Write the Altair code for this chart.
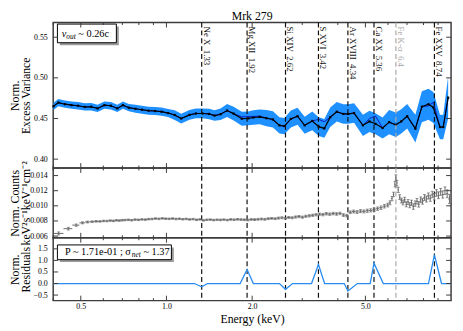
import altair as alt
import pandas as pd

FONT = "Liberation Serif"

# ---------------- data ----------------
# line markers
line_energy = [1.33, 1.92, 2.62, 3.42, 4.34, 5.36, 6.4, 8.74]
line_name = ["Ne X", "Mg XII", "Si XIV", "S XVI", "Ar XVIII", "Ca XX", "Fe K-α", "Fe XXV"]
line_value_text = ["1.33", "1.92", "2.62", "3.42", "4.34", "5.36", "6.4", "8.74"]

# excess variance spectrum (data, model, error)
ev_energy = [0.401, 0.417, 0.440, 0.464, 0.489, 0.516, 0.544, 0.573, 0.605, 0.638,
             0.672, 0.703, 0.738, 0.778, 0.820, 0.865, 0.912, 0.961, 1.014, 1.069,
             1.127, 1.205, 1.269, 1.339, 1.412, 1.476, 1.549, 1.633, 1.722, 1.840,
             1.941, 2.020, 2.128, 2.244, 2.367, 2.495, 2.596, 2.737, 2.887, 3.060,
             3.253, 3.428, 3.587, 3.762, 3.967, 4.180, 4.350, 4.562, 4.901, 5.169,
             5.424, 5.747, 6.061, 6.393, 6.683, 7.010, 7.491, 7.896, 8.329, 8.668,
             9.141, 9.385, 9.766]
ev_data = [0.4650, 0.4696, 0.4676, 0.4664, 0.4657, 0.4642, 0.4645, 0.4624, 0.4664, 0.4657,
           0.4624, 0.4664, 0.4633, 0.4620, 0.4608, 0.4596, 0.4592, 0.4584, 0.4567, 0.4543,
           0.4500, 0.4545, 0.4562, 0.4562, 0.4556, 0.4536, 0.4552, 0.4598, 0.4560, 0.4497,
           0.4502, 0.4512, 0.4520, 0.4504, 0.4488, 0.4416, 0.4407, 0.4495, 0.4528, 0.4416,
           0.4470, 0.4400, 0.4378, 0.4516, 0.4584, 0.4556, 0.4556, 0.4567, 0.4416, 0.4464,
           0.4435, 0.4383, 0.4455, 0.4423, 0.4464, 0.4528, 0.4375, 0.4645, 0.4676, 0.4636,
           0.4395, 0.4395, 0.4757]
ev_model = [0.4650, 0.4696, 0.4676, 0.4664, 0.4657, 0.4642, 0.4645, 0.4624, 0.4664, 0.4657,
            0.4624, 0.4664, 0.4633, 0.4620, 0.4608, 0.4596, 0.4592, 0.4584, 0.4567, 0.4543,
            0.4500, 0.4545, 0.4562, 0.4562, 0.4556, 0.4536, 0.4552, 0.4598, 0.4560, 0.4520,
            0.4525, 0.4525, 0.4530, 0.4504, 0.4488, 0.4416, 0.4407, 0.4495, 0.4528, 0.4416,
            0.4470, 0.4490, 0.4460, 0.4516, 0.4584, 0.4556, 0.4556, 0.4567, 0.4416, 0.4500,
            0.4530, 0.4383, 0.4455, 0.4423, 0.4464, 0.4528, 0.4375, 0.4645, 0.4656, 0.4700,
            0.4395, 0.4395, 0.4757]
ev_err = [0.0045, 0.0045, 0.0045, 0.0045, 0.0045, 0.0045, 0.0045, 0.0045, 0.0045, 0.0045,
          0.0045, 0.0045, 0.0045, 0.0050, 0.0050, 0.0050, 0.0050, 0.0050, 0.0050, 0.0060,
          0.0060, 0.0060, 0.0060, 0.0060, 0.0065, 0.0065, 0.0070, 0.0080, 0.0085, 0.0085,
          0.0085, 0.0090, 0.0090, 0.0100, 0.0100, 0.0100, 0.0100, 0.0105, 0.0105, 0.0105,
          0.0115, 0.0115, 0.0115, 0.0120, 0.0120, 0.0120, 0.0120, 0.0120, 0.0130, 0.0130,
          0.0130, 0.0130, 0.0150, 0.0150, 0.0150, 0.0150, 0.0170, 0.0190, 0.0190, 0.0190,
          0.0150, 0.0150, 0.0260]

# counts spectrum
ct_energy = [0.418, 0.452, 0.482, 0.507, 0.528, 0.548, 0.566, 0.584, 0.601, 0.618,
             0.635, 0.651, 0.667, 0.683, 0.699, 0.715, 0.735, 0.755, 0.776, 0.798,
             0.820, 0.843, 0.866, 0.890, 0.915, 0.941, 0.967, 0.994, 1.022, 1.051,
             1.080, 1.110, 1.141, 1.173, 1.206, 1.240, 1.275, 1.311, 1.348, 1.386,
             1.425, 1.465, 1.506, 1.548, 1.591, 1.636, 1.682, 1.729, 1.777, 1.827,
             1.878, 1.931, 1.985, 2.041, 2.098, 2.157, 2.217, 2.279, 2.343, 2.409,
             2.476, 2.545, 2.617, 2.690, 2.765, 2.843, 2.922, 3.004, 3.088, 3.175,
             3.264, 3.355, 3.449, 3.545, 3.645, 3.747, 3.852, 3.960, 4.071, 4.185,
             4.302, 4.422, 4.546, 4.673, 4.804, 4.939, 5.077, 5.219, 5.365, 5.515,
             5.670, 5.829, 5.992, 6.100, 6.200, 6.280, 6.350, 6.400, 6.450, 6.520,
             6.600, 6.690, 6.780, 6.870, 6.960, 7.060, 7.160, 7.260, 7.370, 7.480,
             7.590, 7.700, 7.820, 7.940, 8.060, 8.190, 8.320, 8.450, 8.590, 8.730,
             8.880, 9.030, 9.190, 9.350, 9.520, 9.690, 9.870]
ct_value = [0.00635, 0.00698, 0.00745, 0.00775, 0.00786, 0.00790, 0.00795, 0.00794, 0.00800, 0.00799,
            0.00805, 0.00801, 0.00808, 0.00805, 0.00810, 0.00812, 0.00815, 0.00810, 0.00818, 0.00815,
            0.00820, 0.00818, 0.00824, 0.00826, 0.00832, 0.00828, 0.00834, 0.00830, 0.00828, 0.00832,
            0.00826, 0.00829, 0.00823, 0.00827, 0.00820, 0.00824, 0.00816, 0.00820, 0.00808, 0.00815,
            0.00818, 0.00812, 0.00816, 0.00814, 0.00818, 0.00812, 0.00820, 0.00816, 0.00822, 0.00818,
            0.00816, 0.00812, 0.00820, 0.00818, 0.00822, 0.00826, 0.00822, 0.00830, 0.00834, 0.00830,
            0.00838, 0.00842, 0.00836, 0.00846, 0.00842, 0.00852, 0.00858, 0.00850, 0.00862, 0.00868,
            0.00875, 0.00882, 0.00890, 0.00884, 0.00895, 0.00890, 0.00898, 0.00893, 0.00900, 0.00878,
            0.00870, 0.00915, 0.00925, 0.00918, 0.00930, 0.00926, 0.00935, 0.00940, 0.00948, 0.00962,
            0.00975, 0.00995, 0.01010, 0.01040, 0.01095, 0.01150, 0.01285, 0.01370, 0.01300, 0.01210,
            0.01115, 0.01070, 0.01045, 0.01080, 0.01020, 0.01050, 0.01010, 0.01040, 0.00990, 0.01030,
            0.01060, 0.01020, 0.01080, 0.01060, 0.01110, 0.01090, 0.01130, 0.01100, 0.01150, 0.01120,
            0.01170, 0.01140, 0.01185, 0.01150, 0.01200, 0.01160, 0.01090]
ct_err = [0.00020, 0.00018, 0.00015, 0.00013, 0.00012, 0.00011, 0.00011, 0.00010, 0.00010, 0.00010,
          0.00010, 0.00010, 0.00010, 0.00010, 0.00010, 0.00010, 0.00010, 0.00010, 0.00010, 0.00010,
          0.00010, 0.00010, 0.00010, 0.00010, 0.00010, 0.00010, 0.00010, 0.00010, 0.00010, 0.00010,
          0.00010, 0.00010, 0.00010, 0.00010, 0.00010, 0.00010, 0.00010, 0.00010, 0.00010, 0.00010,
          0.00010, 0.00010, 0.00010, 0.00010, 0.00010, 0.00010, 0.00011, 0.00011, 0.00011, 0.00011,
          0.00011, 0.00011, 0.00011, 0.00012, 0.00012, 0.00012, 0.00012, 0.00012, 0.00012, 0.00012,
          0.00013, 0.00013, 0.00013, 0.00013, 0.00013, 0.00014, 0.00014, 0.00014, 0.00014, 0.00015,
          0.00015, 0.00015, 0.00015, 0.00016, 0.00016, 0.00016, 0.00017, 0.00017, 0.00017, 0.00018,
          0.00018, 0.00018, 0.00019, 0.00019, 0.00020, 0.00020, 0.00021, 0.00021, 0.00022, 0.00022,
          0.00023, 0.00024, 0.00025, 0.00026, 0.00028, 0.00030, 0.00035, 0.00040, 0.00038, 0.00034,
          0.00032, 0.00032, 0.00033, 0.00033, 0.00034, 0.00034, 0.00035, 0.00035, 0.00036, 0.00036,
          0.00037, 0.00037, 0.00038, 0.00038, 0.00039, 0.00040, 0.00040, 0.00041, 0.00042, 0.00043,
          0.00044, 0.00045, 0.00046, 0.00048, 0.00050, 0.00052, 0.00060]

# residuals
res_energy = [0.40, 1.253, 1.33, 1.393, 1.815, 1.92, 2.020, 2.495, 2.62, 2.775,
              3.234, 3.42, 3.595, 4.214, 4.34, 4.688, 5.198, 5.36, 5.779, 8.329,
              8.74, 9.258, 10.0]
res_value = [0.0, 0.0, -0.14, 0.0, 0.0, 0.61, 0.0, 0.0, -0.25, 0.0,
             0.0, 0.82, 0.0, 0.0, -0.32, 0.0, 0.0, 0.88, 0.0, 0.0,
             1.24, 0.0, 0.0]

# axis ticks / labels
x_major = [0.5, 1.0, 2.0, 5.0]
x_minor = [0.4, 0.6, 0.7, 0.8, 0.9, 3.0, 4.0, 6.0, 7.0, 8.0, 9.0]
ev_ticks = [0.40, 0.45, 0.50, 0.55]
ct_ticks = [0.006, 0.008, 0.010, 0.012, 0.014]
res_ticks = [-0.5, 0.0, 0.5, 1.0, 1.5]

# ---------------- helpers ----------------
W = 405
H1, H2, H3 = 148, 71, 64
SPINE = "#3c3c3c"
BLUE = "#1e90ff"

xscale = alt.Scale(type="log", domain=[0.4, 10.0], nice=False)
y1 = alt.Scale(domain=[0.3891, 0.5680], nice=False, zero=False)
y2 = alt.Scale(domain=[0.00578, 0.0150], nice=False, zero=False)
y3 = alt.Scale(domain=[-0.74, 1.98], nice=False, zero=False)

lines_df = pd.DataFrame({"E": line_energy, "name": line_name, "val": line_value_text})
lines_df["label"] = lines_df["name"] + "\u00a0\u00a0" + lines_df["val"]
one = pd.DataFrame({"a": [0]})

line_col = alt.condition(alt.datum.name == "Fe K-α", alt.value("#a8a8a8"), alt.value("#111111"))


def yaxis(vals, fmt, title):
    return alt.Axis(values=vals, format=fmt, title=title, ticks=False, domain=False, grid=False,
                    labelPadding=6, labelFontSize=8, titleFontSize=12,
                    titleLineHeight=11, titleX=-35, titleBaseline="alphabetic",
                    labelFont=FONT, titleFont=FONT, labelColor="black",
                    titleColor="black", titleFontWeight="normal")


XAX_BOTTOM = alt.Axis(values=x_major, format=".1f", title="Energy (keV)", ticks=False,
                      domain=False, grid=False, labelPadding=2, titlePadding=3,
                      labelFontSize=8, titleFontSize=12, labelFont=FONT, titleFont=FONT,
                      labelColor="black", titleColor="black", titleFontWeight="normal",
                      labelFlush=False)


class Panel:
    def __init__(self, H, yscale, yax, xax):
        self.H, self.yscale, self.yax, self.xax = H, yscale, yax, xax

    def X(self, field):
        return alt.X(field, type="quantitative", scale=xscale, axis=self.xax)

    def Y(self, field):
        return alt.Y(field, type="quantitative", scale=self.yscale, axis=self.yax)

    def vlines(self):
        return alt.Chart(lines_df).mark_rule(strokeDash=[5, 3], strokeWidth=1.2).encode(
            x=self.X("E"), y=alt.value(0), y2=alt.value(self.H), color=line_col)

    def frame_ticks(self, yvals):
        H = self.H
        layers = []
        for vals, ln in ((x_major, 5), (x_minor, 2.5)):
            d = pd.DataFrame({"t": vals})
            layers.append(alt.Chart(d).mark_rule(color=SPINE, strokeWidth=1).encode(
                x=self.X("t"), y=alt.value(H), y2=alt.value(H - ln)))
            layers.append(alt.Chart(d).mark_rule(color=SPINE, strokeWidth=1).encode(
                x=self.X("t"), y=alt.value(0), y2=alt.value(ln)))
        d = pd.DataFrame({"t": yvals})
        layers.append(alt.Chart(d).mark_rule(color=SPINE, strokeWidth=1).encode(
            y=self.Y("t"), x=alt.value(0), x2=alt.value(5)))
        layers.append(alt.Chart(d).mark_rule(color=SPINE, strokeWidth=1).encode(
            y=self.Y("t"), x=alt.value(W - 5), x2=alt.value(W)))
        return layers


def box(x0, y0, x1, y1_):
    sh = alt.Chart(one).mark_rect(color="#9a9a9a").encode(
        x=alt.value(x0 + 2.5), x2=alt.value(x1 + 2.5), y=alt.value(y0 + 2.5), y2=alt.value(y1_ + 2.5))
    bx = alt.Chart(one).mark_rect(fill="white", stroke="black", strokeWidth=1).encode(
        x=alt.value(x0), x2=alt.value(x1), y=alt.value(y0), y2=alt.value(y1_))
    return [sh, bx]


def txt(s, x, y, size=10.5, style="normal"):
    return alt.Chart(one).mark_text(text=s, align="left", baseline="alphabetic", font=FONT,
                                    fontSize=size, fontStyle=style, color="black").encode(
        x=alt.value(x), y=alt.value(y))


# ---------------- top panel ----------------
P1 = Panel(H1, y1, yaxis(ev_ticks, ".2f", ["Norm.", "Excess Variance"]), None)
ev_df = pd.DataFrame({"E": ev_energy, "v": ev_data, "m": ev_model, "e": ev_err})
ev_df["lo"] = ev_df["v"] - ev_df["e"]
ev_df["hi"] = ev_df["v"] + ev_df["e"]

band = alt.Chart(ev_df).mark_area(color=BLUE, opacity=1).encode(
    x=P1.X("E"), y=P1.Y("lo"), y2="hi:Q")
model = alt.Chart(ev_df).mark_line(color="#0b1fc8", strokeWidth=1).encode(
    x=P1.X("E"), y=P1.Y("m"))
dline = alt.Chart(ev_df).mark_line(color="black", strokeWidth=1.2,
                                   point=alt.OverlayMarkDef(shape="square", size=5, filled=True,
                                                            color="black")).encode(
    x=P1.X("E"), y=P1.Y("v"))
labels = alt.Chart(lines_df).mark_text(angle=90, align="left", baseline="bottom", font=FONT,
                                       fontSize=9).encode(
    x=P1.X("E"), y=alt.value(4), text="label:N", color=line_col)
title = alt.Chart(one).mark_text(text="Mrk 279", align="center", baseline="alphabetic", font=FONT,
                                 fontSize=12, color="black").encode(
    x=alt.value(W / 2), y=alt.value(-2.5))

top = alt.layer(
    band, model, dline, P1.vlines(), labels,
    *box(4.3, 1.5, 64.3, 20.5),
    txt("v", 8.7, 14.8, 10.5, "italic"), txt("out", 13.4, 17, 7.5, "italic"),
    txt("~ 0.26c", 25.6, 14.8, 10.5),
    title,
    *P1.frame_ticks(ev_ticks),
).properties(width=W, height=H1)

# ---------------- middle panel ----------------
P2 = Panel(H2, y2, yaxis(ct_ticks, ".3f", ["Norm. Counts", "keV²s⁻¹keV⁻¹cm⁻²"]), None)
ct_df = pd.DataFrame({"E": ct_energy, "c": ct_value, "e": ct_err})
ct_df["lo"] = ct_df["c"] - ct_df["e"]
ct_df["hi"] = ct_df["c"] + ct_df["e"]
nb = ct_df["E"].tolist()
xl, xh = [], []
for i, e in enumerate(nb):
    left = (nb[i - 1] * e) ** 0.5 if i > 0 else e - (nb[1] - e) / 2
    right = (nb[i + 1] * e) ** 0.5 if i < len(nb) - 1 else e + (e - nb[i - 1]) / 2
    xl.append(left)
    xh.append(right)
ct_df["xl"] = xl
ct_df["xh"] = xh

GRAY = "#6a6a6a"
vbar = alt.Chart(ct_df).mark_rule(color=GRAY, strokeWidth=1).encode(
    x=P2.X("E"), y=P2.Y("lo"), y2="hi:Q")
hbar = alt.Chart(ct_df).mark_rule(color=GRAY, strokeWidth=1).encode(
    x=P2.X("xl"), x2="xh:Q", y=P2.Y("c"))
cap_lo = alt.Chart(ct_df).mark_tick(color=GRAY, orient="horizontal", size=3, thickness=1).encode(
    x=P2.X("E"), y=P2.Y("lo"))
cap_hi = alt.Chart(ct_df).mark_tick(color=GRAY, orient="horizontal", size=3, thickness=1).encode(
    x=P2.X("E"), y=P2.Y("hi"))

mid = alt.layer(
    P2.vlines(), vbar, hbar, cap_lo, cap_hi, *P2.frame_ticks(ct_ticks)
).properties(width=W, height=H2)

# ---------------- bottom panel ----------------
P3 = Panel(H3, y3, yaxis(res_ticks, ".1f", ["Norm.", "Residuals"]), XAX_BOTTOM)
res_df = pd.DataFrame({"E": res_energy, "r": res_value})
res = alt.Chart(res_df).mark_line(color="#2a8cf0", strokeWidth=1.3).encode(
    x=P3.X("E"), y=P3.Y("r"))

bot = alt.layer(
    P3.vlines(), res,
    *box(4.3, 7.3, 120.3, 22.3),
    txt("P ~ 1.71e-01 ; σ", 12, 18, 10.5), txt("net", 80, 20, 7.5, "italic"),
    txt("~ 1.37", 91.8, 18, 10.5),
    *P3.frame_ticks(res_ticks),
).properties(width=W, height=H3)

chart = alt.vconcat(top, mid, bot, spacing=0, bounds="flush").properties(
    padding={"left": 0, "top": -2, "right": 0, "bottom": 0}
).configure_view(stroke=SPINE, strokeWidth=1.5).configure_axis(labelFont=FONT, titleFont=FONT)

chart.save("out.html", embed_options={"renderer": "svg", "actions": False})
